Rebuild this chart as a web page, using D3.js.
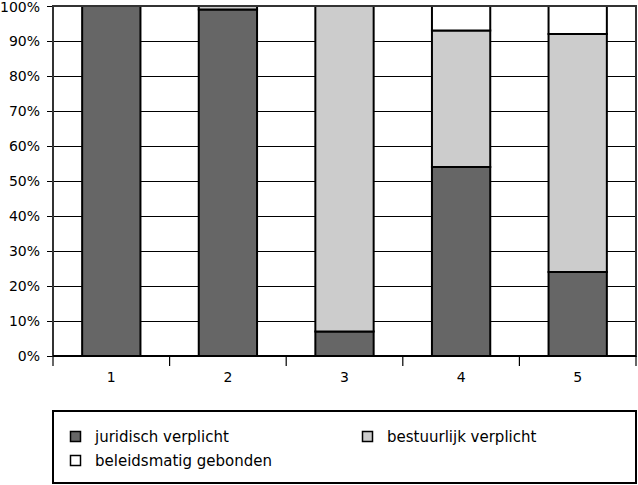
<!DOCTYPE html>
<html>
<head>
<meta charset="utf-8">
<script src="https://cdn.jsdelivr.net/npm/d3@7"></script>
<style>
  body { margin: 0; background: #fff; }
  text { font-family: "DejaVu Sans", sans-serif; fill: #000; }
</style>
</head>
<body>
<div id="viz"></div>
<script>
// chart data
var categories = ['1', '2', '3', '4', '5'];
var seriesNames = ['juridisch verplicht', 'bestuurlijk verplicht', 'beleidsmatig gebonden'];
var juridisch = [100, 99, 7, 54, 24];
var bestuurlijk = [0, 1, 93, 39, 68];
var beleidsmatig = [0, 0, 0, 7, 8];
var yTicks = [0, 10, 20, 30, 40, 50, 60, 70, 80, 90, 100];

var colors = ['#666666', '#cccccc', '#ffffff'];

var margin = { top: 6, right: 2, bottom: 129, left: 53 },
    width = 638 - margin.left - margin.right,
    height = 485 - margin.top - margin.bottom;

var rows = categories.map(function (c, i) {
    return { cat: c, j: juridisch[i], b: bestuurlijk[i], p: beleidsmatig[i] };
});
var stacked = d3.stack().keys(['j', 'b', 'p'])(rows);

var svg = d3.select('#viz').append('svg')
    .attr('width', 638)
    .attr('height', 485);

var g = svg.append('g')
    .attr('transform', 'translate(' + margin.left + ',' + margin.top + ')');

var xScale = d3.scaleBand()
    .domain(categories)
    .range([0, width])
    .paddingInner(0.5)
    .paddingOuter(0.25);

var yScale = d3.scaleLinear()
    .domain([0, 100])
    .range([height, 0]);

// grid lines
g.append('g')
    .selectAll('line').data(yTicks)
    .enter().append('line')
    .attr('x1', 0).attr('x2', width)
    .attr('y1', function (d) { return Math.round(yScale(d)) + 0.5; })
    .attr('y2', function (d) { return Math.round(yScale(d)) + 0.5; })
    .attr('stroke', '#000')
    .attr('stroke-width', 1);

// y axis labels + ticks
var yAxis = d3.axisLeft(yScale)
    .tickValues(yTicks)
    .tickFormat(function (d) { return d + '%'; })
    .tickSize(6)
    .tickPadding(7);

var yGuide = g.append('g').call(yAxis);
yGuide.select('.domain').remove();
yGuide.selectAll('text')
    .style('font-size', '14px')
    .attr('dy', function (d) { return d === 100 ? '0.42em' : '0.32em'; });
yGuide.selectAll('line').attr('stroke', '#000');

// bars
g.append('g')
    .selectAll('g').data(stacked)
    .enter().append('g')
    .attr('fill', function (d, i) { return colors[i]; })
    .selectAll('rect').data(function (d) { return d; })
    .enter().append('rect')
    .filter(function (d) { return d[1] - d[0] > 0; })
    .attr('x', function (d) { return xScale(d.data.cat); })
    .attr('width', xScale.bandwidth())
    .attr('y', function (d) { return yScale(d[1]); })
    .attr('height', function (d) { return yScale(d[0]) - yScale(d[1]); })
    .attr('stroke', '#000')
    .attr('stroke-width', 2);

// plot frame
g.append('rect')
    .attr('x', 0).attr('y', 0)
    .attr('width', width).attr('height', height)
    .attr('fill', 'none')
    .attr('stroke', '#333')
    .attr('stroke-width', 2);

// x axis: ticks between categories
var step = xScale.step();
var xBounds = categories.map(function (c) { return xScale(c) - step / 4; });
xBounds.push(width);

g.append('g')
    .selectAll('line').data(xBounds)
    .enter().append('line')
    .attr('x1', function (d) { return d; })
    .attr('x2', function (d) { return d; })
    .attr('y1', height)
    .attr('y2', height + 10)
    .attr('stroke', '#000')
    .attr('stroke-width', 1.2);

g.append('line')
    .attr('x1', 0).attr('x2', width)
    .attr('y1', height).attr('y2', height)
    .attr('stroke', '#000')
    .attr('stroke-width', 2);

g.append('g')
    .selectAll('text').data(categories)
    .enter().append('text')
    .attr('x', function (d) { return xScale(d) + xScale.bandwidth() / 2; })
    .attr('y', height + 26)
    .attr('text-anchor', 'middle')
    .style('font-size', '14px')
    .text(function (d) { return d; });

// legend
var legend = svg.append('g');
legend.append('rect')
    .attr('x', 53).attr('y', 411)
    .attr('width', 583).attr('height', 72)
    .attr('fill', '#fff')
    .attr('stroke', '#000')
    .attr('stroke-width', 2);

var legendPos = [[70, 431], [362, 431], [70, 455]];
var items = legend.selectAll('g.item').data(seriesNames)
    .enter().append('g')
    .attr('class', 'item')
    .attr('transform', function (d, i) {
        return 'translate(' + legendPos[i][0] + ',' + legendPos[i][1] + ')';
    });

items.append('rect')
    .attr('x', 0.5).attr('y', 0.5)
    .attr('width', 10).attr('height', 10)
    .attr('fill', function (d, i) { return colors[i]; })
    .attr('stroke', '#000')
    .attr('stroke-width', 1.5);

items.append('text')
    .attr('x', 25)
    .attr('y', 10.5)
    .style('font-size', '15px')
    .text(function (d) { return d; });
</script>
</body>
</html>
